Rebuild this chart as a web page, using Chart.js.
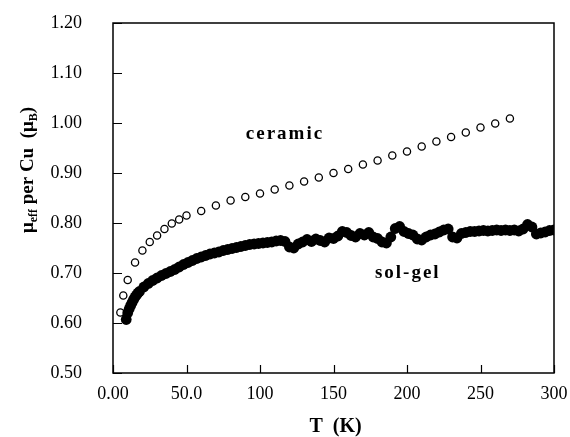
<!DOCTYPE html>
<html>
<head>
<meta charset="utf-8">
<script src="https://cdn.jsdelivr.net/npm/chart.js@4"></script>
<style>
  body { margin: 0; background: #fff; }
  #wrap { width: 570px; height: 437px; }
</style>
</head>
<body>
<div id="wrap"><canvas id="myChart"></canvas></div>
<script>
// ceramic (open circles)
const ceramicT = [5, 7, 10, 15, 20, 25, 30, 35, 40, 45, 50, 60, 70, 80, 90, 100, 110, 120, 130, 140,
  150, 160, 170, 180, 190, 200, 210, 220, 230, 240, 250, 260, 270];
const ceramicMu = [0.621, 0.655, 0.686, 0.721, 0.745, 0.762, 0.775, 0.788, 0.799, 0.807, 0.815, 0.824,
  0.835, 0.845, 0.852, 0.859, 0.867, 0.875, 0.883, 0.891, 0.900, 0.908, 0.917, 0.925, 0.935, 0.943,
  0.953, 0.963, 0.972, 0.981, 0.991, 0.999, 1.009];

// sol-gel (filled, dense)
const solgelT = [9, 10, 11, 12, 13, 14, 15, 16, 17, 18, 21, 24, 27, 30, 33, 36, 39, 42, 45, 48, 51, 54,
  57, 60, 63, 66, 69, 72, 75, 78, 81, 84, 87, 90, 93, 96, 99, 102, 105, 108, 111, 114, 117, 120, 123,
  126, 129, 132, 135, 138, 141, 144, 147, 150, 153, 156, 159, 162, 165, 168, 171, 174, 177, 180, 183,
  186, 189, 192, 195, 198, 201, 204, 207, 210, 213, 216, 219, 222, 225, 228, 231, 234, 237, 240, 243,
  246, 249, 252, 255, 258, 261, 264, 267, 270, 273, 276, 279, 282, 285, 288, 291, 294, 297, 300];
const solgelMu = [0.607, 0.620, 0.628, 0.635, 0.641, 0.647, 0.652, 0.656, 0.660, 0.663, 0.672, 0.679,
  0.685, 0.690, 0.695, 0.699, 0.703, 0.707, 0.712, 0.717, 0.721, 0.725, 0.729, 0.732, 0.735, 0.738,
  0.740, 0.742, 0.745, 0.747, 0.749, 0.751, 0.753, 0.755, 0.757, 0.758, 0.759, 0.760, 0.761, 0.762,
  0.764, 0.765, 0.763, 0.752, 0.750, 0.758, 0.762, 0.767, 0.763, 0.768, 0.765, 0.762, 0.770, 0.769,
  0.774, 0.783, 0.781, 0.775, 0.772, 0.779, 0.776, 0.781, 0.772, 0.769, 0.762, 0.760, 0.772, 0.789,
  0.793, 0.783, 0.779, 0.776, 0.768, 0.766, 0.772, 0.776, 0.778, 0.782, 0.786, 0.788, 0.772, 0.770,
  0.779, 0.781, 0.783, 0.783, 0.784, 0.785, 0.784, 0.785, 0.786, 0.785, 0.786, 0.785, 0.786, 0.784,
  0.788, 0.797, 0.792, 0.778, 0.780, 0.782, 0.785, 0.786];

const xTicks = [0, 50, 100, 150, 200, 250, 300];
const xTickLabels = ["0.00", "50.0", "100", "150", "200", "250", "300"];
const yTicks = [0.5, 0.6, 0.7, 0.8, 0.9, 1.0, 1.1, 1.2];

// text labels inside the plot (data coords)
const seriesLabels = [
  { text: "ceramic", x: 117, y: 0.977 },
  { text: "sol-gel", x: 200.5, y: 0.700 }
];

const serif = "'Liberation Serif', 'DejaVu Serif', serif";

function toXY(xs, ys) {
  return xs.map(function (x, i) { return { x: x, y: ys[i] }; });
}

// frame, inward ticks, labels and axis titles
const decor = {
  id: 'decor',
  afterDraw(chart) {
    const ctx = chart.ctx;
    const a = chart.chartArea;
    const xs = chart.scales.x;
    const ys = chart.scales.y;
    ctx.save();
    ctx.strokeStyle = '#000';
    ctx.lineWidth = 1.5;
    ctx.strokeRect(a.left, a.top, a.right - a.left, a.bottom - a.top);

    ctx.lineWidth = 1.2;
    ctx.beginPath();
    yTicks.forEach(function (v) {
      const py = Math.round(ys.getPixelForValue(v)) + 0.5;
      ctx.moveTo(a.left, py);
      ctx.lineTo(a.left + 9, py);
    });
    xTicks.forEach(function (v) {
      const px = Math.round(xs.getPixelForValue(v)) + 0.5;
      ctx.moveTo(px, a.bottom);
      ctx.lineTo(px, a.bottom - 8);
    });
    ctx.stroke();

    ctx.fillStyle = '#000';
    ctx.font = 'bold 19px ' + serif;
    ctx.letterSpacing = '2px';
    ctx.textAlign = 'center';
    ctx.textBaseline = 'middle';
    seriesLabels.forEach(function (l) {
      ctx.fillText(l.text, xs.getPixelForValue(l.x), ys.getPixelForValue(l.y));
    });
    ctx.letterSpacing = '0px';

    // x title
    ctx.font = 'bold 20px ' + serif;
    ctx.fillText('T  (K)', (a.left + a.right) / 2 + 2, 427);

    // y title with subscripts
    const parts = [
      { t: 'μ', sub: false },
      { t: 'eff', sub: true },
      { t: ' per Cu  (', sub: false },
      { t: 'μ', sub: false },
      { t: 'B', sub: true },
      { t: ')', sub: false }
    ];
    const big = 'bold 19px ' + serif;
    const small = 'bold 12px ' + serif;
    let total = 0;
    parts.forEach(function (p) {
      ctx.font = p.sub ? small : big;
      p.w = ctx.measureText(p.t).width;
      total += p.w;
    });
    ctx.translate(27, 170);
    ctx.rotate(-Math.PI / 2);
    ctx.textAlign = 'left';
    ctx.textBaseline = 'alphabetic';
    let cx = -total / 2;
    parts.forEach(function (p) {
      ctx.font = p.sub ? small : big;
      ctx.fillText(p.t, cx, p.sub ? 10 : 6);
      cx += p.w;
    });
    ctx.restore();
  }
};

let ctx = document.getElementById('myChart');
let myChart = new Chart(ctx, {
  type: 'scatter',
  data: {
    datasets: [
      {
        label: 'sol-gel',
        data: toXY(solgelT, solgelMu),
        pointRadius: 5.4,
        pointBackgroundColor: '#000',
        pointBorderColor: '#000',
        pointBorderWidth: 0,
        showLine: false
      },
      {
        label: 'ceramic',
        data: toXY(ceramicT, ceramicMu),
        pointRadius: 3.6,
        pointBackgroundColor: '#fff',
        pointBorderColor: '#000',
        pointBorderWidth: 1.3,
        showLine: false
      }
    ]
  },
  options: {
    responsive: true,
    maintainAspectRatio: false,
    animation: false,
    layout: { padding: { top: 23, right: 16, left: 0, bottom: 0 } },
    plugins: {
      legend: { display: false },
      tooltip: { enabled: false }
    },
    scales: {
      x: {
        type: 'linear',
        min: 0,
        max: 300,
        afterFit: function (scale) {
          scale.height = 64;
          scale.paddingLeft = 0;
          scale.paddingRight = 0;
        },
        afterBuildTicks: function (scale) {
          scale.ticks = xTicks.map(function (v) { return { value: v }; });
        },
        grid: { display: false, drawTicks: false },
        border: { display: false },
        ticks: {
          padding: 10,
          color: '#000',
          font: { family: serif, size: 18 },
          maxRotation: 0,
          callback: function (value) {
            const i = xTicks.indexOf(value);
            return i >= 0 ? xTickLabels[i] : '';
          }
        }
      },
      y: {
        type: 'linear',
        min: 0.5,
        max: 1.2,
        afterFit: function (scale) {
          scale.width = 113;
          scale.paddingTop = 0;
          scale.paddingBottom = 0;
        },
        afterBuildTicks: function (scale) {
          scale.ticks = yTicks.map(function (v) { return { value: v }; });
        },
        grid: { display: false, drawTicks: false },
        border: { display: false },
        ticks: {
          padding: 31,
          color: '#000',
          font: { family: serif, size: 18 },
          callback: function (value) { return Number(value).toFixed(2); }
        }
      }
    }
  },
  plugins: [decor]
});
</script>
</body>
</html>
